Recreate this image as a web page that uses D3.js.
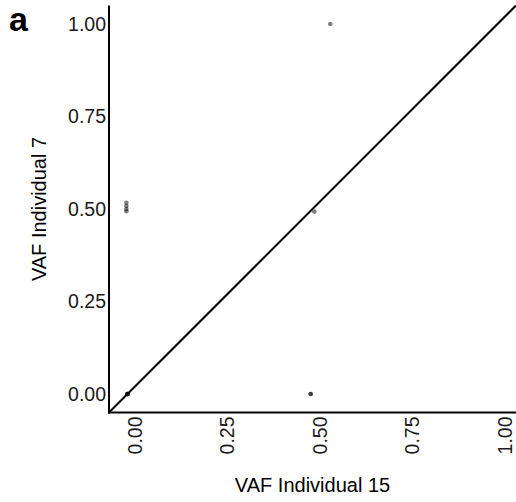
<!DOCTYPE html>
<html>
<head>
<meta charset="utf-8">
<script src="https://cdn.jsdelivr.net/npm/d3@7.9.0/dist/d3.min.js"></script>
<style>
  body { margin: 0; background: #fff; }
  svg text { font-family: "Liberation Sans", Arial, sans-serif; }
</style>
</head>
<body>
<svg id="chart" width="516" height="502"></svg>
<script>
// VAF of shared variants, individual 15 (x) vs individual 7 (y)
const vaf15 = [0, 0, 0, 0, -0.003, -0.003, -0.003, -0.003, 0.495, 0.495, 0.505, 0.548];
const vaf7  = [0, 0, 0, 0, 0.517, 0.508, 0.500, 0.494, 0, 0, 0.493, 1.0];
const tickValues = [0, 0.25, 0.5, 0.75, 1];
const xTitle = 'VAF Individual 15';
const yTitle = 'VAF Individual 7';
const panelLabel = 'a';

const points = vaf15.map((x, i) => ({ x: x, y: vaf7[i] }));

const svg = d3.select('#chart');
const panelLeft = 109, panelRight = 516, panelTop = 5.5, panelBottom = 412.5;

const x = d3.scaleLinear().domain([-0.05, 1.05]).range([panelLeft, panelRight]);
const y = d3.scaleLinear().domain([-0.05, 1.05]).range([panelBottom, panelTop]);
const fmt = d3.format('.2f');

// diagonal y = x across the whole panel
svg.append('line')
    .attr('x1', x(-0.05)).attr('y1', y(-0.05))
    .attr('x2', x(1.05)).attr('y2', y(1.05))
    .attr('stroke', '#000')
    .attr('stroke-width', 2);

// points
svg.append('g').selectAll('circle')
    .data(points)
    .join('circle')
    .attr('cx', d => x(d.x))
    .attr('cy', d => y(d.y))
    .attr('r', 2.3)
    .attr('fill', '#000')
    .attr('fill-opacity', 0.5);

// axes lines
svg.append('line')
    .attr('x1', panelLeft).attr('x2', panelLeft)
    .attr('y1', panelTop).attr('y2', panelBottom + 1)
    .attr('stroke', '#000').attr('stroke-width', 2);
svg.append('line')
    .attr('x1', panelLeft - 1).attr('x2', panelRight)
    .attr('y1', panelBottom).attr('y2', panelBottom)
    .attr('stroke', '#000').attr('stroke-width', 2);

// y tick labels
svg.append('g').selectAll('text')
    .data(tickValues)
    .join('text')
    .attr('x', panelLeft - 3)
    .attr('y', d => y(d))
    .attr('dy', '0.35em')
    .attr('text-anchor', 'end')
    .attr('font-size', 19.5)
    .attr('fill', '#1a1a1a')
    .text(d => fmt(d));

// x tick labels, rotated
svg.append('g').selectAll('text')
    .data(tickValues)
    .join('text')
    .attr('transform', d => `translate(${x(d) + 14},${panelBottom + 4}) rotate(-90)`)
    .attr('text-anchor', 'end')
    .attr('font-size', 19.5)
    .attr('fill', '#1a1a1a')
    .text(d => fmt(d));

// axis titles
svg.append('text')
    .attr('x', (panelLeft + panelRight) / 2)
    .attr('y', 492)
    .attr('text-anchor', 'middle')
    .attr('font-size', 20)
    .attr('fill', '#000')
    .text(xTitle);

svg.append('text')
    .attr('transform', `translate(46,${(panelTop + panelBottom) / 2}) rotate(-90)`)
    .attr('text-anchor', 'middle')
    .attr('font-size', 20)
    .attr('fill', '#000')
    .text(yTitle);

// panel label
svg.append('text')
    .attr('x', 9)
    .attr('y', 31)
    .attr('font-size', 34)
    .attr('font-weight', 'bold')
    .attr('fill', '#000')
    .text(panelLabel);
</script>
</body>
</html>
